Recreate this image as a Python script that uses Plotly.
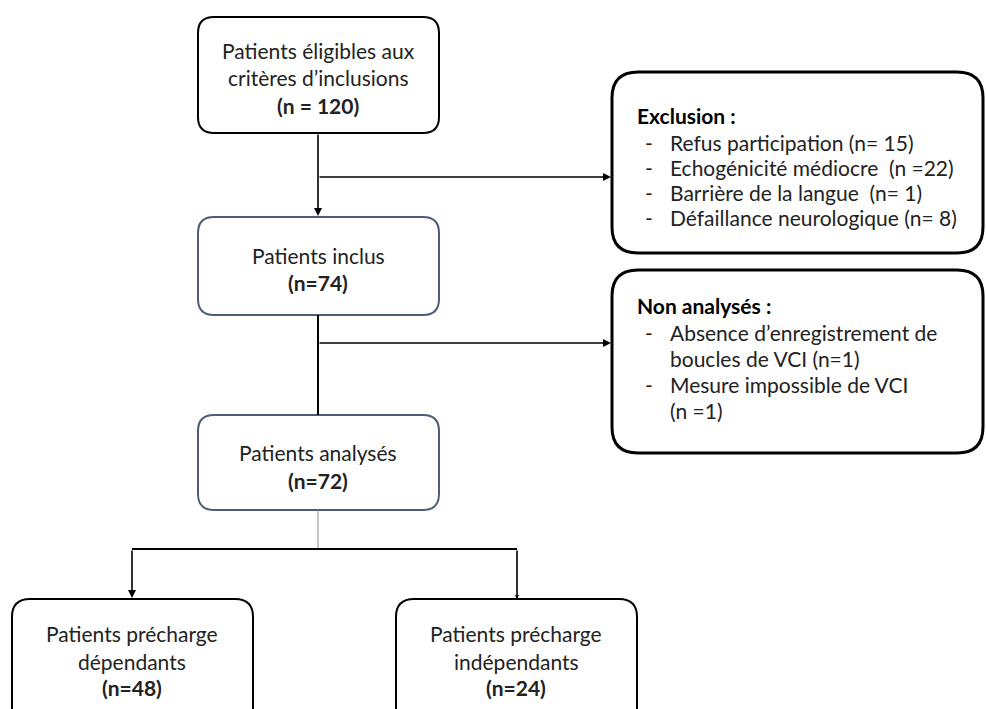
import plotly.graph_objects as go

FONT = "Lato"
FS = 21

# ---- data (text content of the flowchart) ----
main_titles = ["Patients éligibles aux<br>critères d’inclusions", "Patients inclus", "Patients analysés"]
main_counts = ["(n = 120)", "(n=74)", "(n=72)"]
exclusion_title = "Exclusion :"
exclusion_items = ["Refus participation (n= 15)", "Echogénicité médiocre  (n =22)",
                   "Barrière de la langue  (n= 1)", "Défaillance neurologique (n= 8)"]
nonanalyses_title = "Non analysés :"
nonanalyses_items = [["Absence d’enregistrement de", "boucles de VCI (n=1)"],
                     ["Mesure impossible de VCI", "(n =1)"]]
group_titles = ["Patients précharge<br>dépendants", "Patients précharge<br>indépendants"]
group_counts = ["(n=48)", "(n=24)"]

W, H = 986, 709
fig = go.Figure()


def rrect(x0, y0, x1, y1, r, color, width):
    p = (f"M {x0+r},{y0} L {x1-r},{y0} Q {x1},{y0} {x1},{y0+r} "
         f"L {x1},{y1-r} Q {x1},{y1} {x1-r},{y1} L {x0+r},{y1} "
         f"Q {x0},{y1} {x0},{y1-r} L {x0},{y0+r} Q {x0},{y0} {x0+r},{y0} Z")
    fig.add_shape(type="path", path=p, line=dict(color=color, width=width),
                  fillcolor="rgba(0,0,0,0)", layer="above")


def line(x0, y0, x1, y1, color="black", width=2):
    fig.add_shape(type="line", x0=x0, y0=y0, x1=x1, y1=y1,
                  line=dict(color=color, width=width))


def arrow(x0, y0, x1, y1, size=1.0):
    fig.add_annotation(x=x1, y=y1, ax=x0, ay=y0, xref="x", yref="y", axref="x", ayref="y",
                       text="", showarrow=True, arrowhead=2, arrowsize=size,
                       arrowwidth=1.6, arrowcolor="black", standoff=0)


def text(x, y, s, size=FS, xanchor="center", color="#222222"):
    fig.add_annotation(x=x, y=y, text=s, showarrow=False, xanchor=xanchor, yanchor="middle",
                       font=dict(family=FONT, size=size, color=color))


SLATE = "#4d5d78"
cx = 318

# boxes
rrect(198, 17, 439, 133, 16, "black", 2)
rrect(198, 217, 439, 315, 16, SLATE, 2)
rrect(198, 415, 439, 510, 16, SLATE, 2)
rrect(612, 72, 983, 253, 26, "black", 3)
rrect(612, 270, 983, 453, 26, "black", 3)
rrect(12, 599, 253, 730, 18, "black", 2)
rrect(396, 599, 637, 730, 18, "black", 2)

# connectors
arrow(cx, 133, cx, 216)
arrow(cx, 177, 611, 177)
line(cx, 315, cx, 415)
arrow(cx, 343, 611, 343)
line(cx, 510, cx, 549, color="#8a8a8a", width=1)
line(132, 549, 517, 549)
arrow(132, 549, 132, 598)
arrow(517, 549, 517, 599, size=0.5)

# main box texts
text(cx, 50, main_titles[0].split("<br>")[0])
text(cx, 77, main_titles[0].split("<br>")[1])
text(cx, 105, "<b>" + main_counts[0] + "</b>")
text(cx, 255, main_titles[1])
text(cx, 282, "<b>" + main_counts[1] + "</b>")
text(cx, 452, main_titles[2])
text(cx, 480, "<b>" + main_counts[2] + "</b>")

# exclusion box
text(635, 115, "<b>" + exclusion_title + "</b>", xanchor="left", color="black")
for i, item in enumerate(exclusion_items):
    y = 142 + i * 25.3
    text(643, y, "-", xanchor="left")
    text(668, y, item, xanchor="left")

# non analysés box
text(635, 305, "<b>" + nonanalyses_title + "</b>", xanchor="left", color="black")
yy = 332
for item in nonanalyses_items:
    text(643, yy, "-", xanchor="left")
    for ln in item:
        text(668, yy, ln, xanchor="left")
        yy += 26

# group boxes
for gx, t, c in zip([132, 516], group_titles, group_counts):
    l1, l2 = t.split("<br>")
    text(gx, 633, l1)
    text(gx, 661, l2)
    text(gx, 687, "<b>" + c + "</b>")

fig.update_layout(
    width=W, height=H, margin=dict(l=0, r=0, t=0, b=0),
    paper_bgcolor="white", plot_bgcolor="white", showlegend=False,
    xaxis=dict(range=[0, W], visible=False, fixedrange=True),
    yaxis=dict(range=[H, 0], visible=False, fixedrange=True),
)
fig.write_html("out.html", config={"displayModeBar": False},
               post_script="document.body.style.margin='0px';document.body.style.overflow='hidden';")
